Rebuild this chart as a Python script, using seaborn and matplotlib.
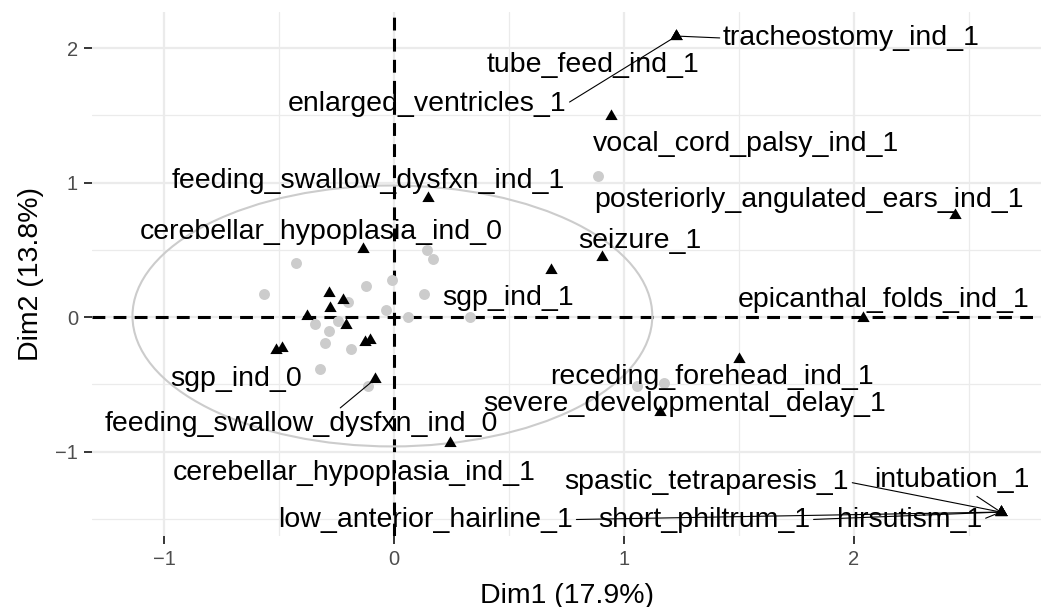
import pandas as pd
import seaborn as sns
import matplotlib.pyplot as plt
from matplotlib.patches import Ellipse
from matplotlib.markers import MarkerStyle
from matplotlib.path import Path

# individuals (grey dots)
ind_dim1 = [-0.424, -0.566, -0.123, -0.010, 0.142, 0.168, 0.132, -0.035, 0.062, 0.331,
            -0.199, -0.344, -0.245, -0.282, -0.300, -0.189, -0.322, -0.112, 0.888, 1.172, 1.057]
ind_dim2 = [0.402, 0.168, 0.232, 0.274, 0.496, 0.432, 0.170, 0.052, -0.002, -0.002,
            0.113, -0.052, -0.027, -0.101, -0.195, -0.239, -0.387, -0.516, 1.052, -0.491, -0.516]

# variable categories (black triangles), "" = label dropped by the repel
cat_names = [
    "tracheostomy_ind_1", "tube_feed_ind_1", "enlarged_ventricles_1",
    "vocal_cord_palsy_ind_1", "feeding_swallow_dysfxn_ind_1",
    "posteriorly_angulated_ears_ind_1", "cerebellar_hypoplasia_ind_0",
    "seizure_1", "sgp_ind_1", "epicanthal_folds_ind_1", "sgp_ind_0",
    "receding_forehead_ind_1", "severe_developmental_delay_1",
    "feeding_swallow_dysfxn_ind_0", "cerebellar_hypoplasia_ind_1",
    "spastic_tetraparesis_1", "intubation_1", "low_anterior_hairline_1",
    "short_philtrum_1", "hirsutism_1",
    "", "", "", "", "", "", "", "",
]
cat_dim1 = [1.228, 1.228, 1.228, 0.945, 0.149, 2.437, -0.134, 0.903, 0.683, 2.040,
            -0.511, 1.502, 1.157, -0.083, 0.244, 2.638, 2.638, 2.638, 2.638, 2.638,
            -0.282, -0.223, -0.279, -0.377, -0.209, -0.126, -0.104, -0.485]
cat_dim2 = [2.089, 2.089, 2.089, 1.496, 0.887, 0.756, 0.509, 0.447, 0.348, -0.010,
            -0.244, -0.313, -0.705, -0.462, -0.933, -1.450, -1.450, -1.450, -1.450, -1.450,
            0.176, 0.126, 0.064, 0.007, -0.059, -0.183, -0.170, -0.232]

dim1_title = "Dim1 (17.9%)"
dim2_title = "Dim2 (13.8%)"

# concentration ellipse of the individuals
ellipse_center = (-0.007, 0.008)
ellipse_radii = (1.13, 0.97)

# label placement (pixel offsets from the point, segment anchor on label box)
LABEL_LAYOUT = {
    "tracheostomy_ind_1": (175, -1, (0, 0.5)),
    "tube_feed_ind_1": (-83.5, 26, None),
    "enlarged_ventricles_1": (-249.5, 65, (1, 0.5)),
    "vocal_cord_palsy_ind_1": (134.5, 25, None),
    "feeding_swallow_dysfxn_ind_1": (-60, -20, None),
    "posteriorly_angulated_ears_ind_1": (-145.5, -18.5, None),
    "cerebellar_hypoplasia_ind_0": (-42, -20, None),
    "seizure_1": (38, -19, None),
    "sgp_ind_1": (-43, 25, None),
    "epicanthal_folds_ind_1": (20, -21, None),
    "sgp_ind_0": (-40, 26, None),
    "receding_forehead_ind_1": (-27.5, 15, None),
    "severe_developmental_delay_1": (24.5, -11, None),
    "feeding_swallow_dysfxn_ind_0": (-74, 42, (0.59, 1)),
    "cerebellar_hypoplasia_ind_1": (-96, 27, None),
    "spastic_tetraparesis_1": (-294, -33, (1, 0.5)),
    "intubation_1": (-49, -35, (0.63, 0)),
    "low_anterior_hairline_1": (-575, 4.5, (1, 0.5)),
    "short_philtrum_1": (-296.5, 4.5, (1, 0.5)),
    "hirsutism_1": (-91, 4.5, (1, 0.5)),
}


def main():
    ind = pd.DataFrame({"Dim1": ind_dim1, "Dim2": ind_dim2})
    cat = pd.DataFrame({"name": cat_names, "Dim1": cat_dim1, "Dim2": cat_dim2})

    sns.set_theme(style="whitegrid")
    plt.rcParams["font.family"] = ["Liberation Sans", "DejaVu Sans"]

    fig = plt.figure(figsize=(10.43, 6.07), dpi=100)
    ax = fig.add_axes([92 / 1043, 1 - 536 / 607, 949 / 1043, 524 / 607])
    ax.set_facecolor("white")

    ax.axhline(0, color="black", lw=2.2, dashes=(4.2, 2.7), zorder=1)
    ax.axvline(0, color="black", lw=2.2, dashes=(4.2, 2.7), zorder=1)

    sns.scatterplot(data=ind, x="Dim1", y="Dim2", color="#CCCCCC", s=62,
                    linewidth=0, ax=ax, zorder=2)

    ax.add_patch(Ellipse(ellipse_center, 2 * ellipse_radii[0], 2 * ellipse_radii[1],
                         fill=False, edgecolor="#CCCCCC", lw=1.5, zorder=2))

    tri = MarkerStyle(Path([(-1, -0.577), (1, -0.577), (0, 1.155), (-1, -0.577)], closed=True))
    sns.scatterplot(data=cat, x="Dim1", y="Dim2", color="black", marker=tri, s=105,
                    linewidth=0, ax=ax, zorder=3)

    for _, row in cat.iterrows():
        if row["name"] == "":
            continue
        dx, dy, anchor = LABEL_LAYOUT[row["name"]]
        arrow = None
        if anchor is not None:
            arrow = dict(arrowstyle="-", color="black", lw=0.8, relpos=anchor,
                         shrinkA=0, shrinkB=0)
        ax.annotate(row["name"], xy=(row["Dim1"], row["Dim2"]),
                    xytext=(dx * 0.72, -dy * 0.72), textcoords="offset points",
                    ha="center", va="center_baseline", fontsize=20.5,
                    color="black", arrowprops=arrow, zorder=4)

    ax.set_xlim(-1.313, 2.813)
    ax.set_ylim(-1.628, 2.268)
    ax.set_xticks([-1, 0, 1, 2])
    ax.set_yticks([-1, 0, 1, 2])
    ax.set_xticks([-0.5, 0.5, 1.5, 2.5], minor=True)
    ax.set_yticks([-1.5, -0.5, 0.5, 1.5], minor=True)
    ax.grid(True, which="major", color="#EBEBEB", lw=1.6)
    ax.grid(True, which="minor", color="#EBEBEB", lw=0.9)
    ax.set_axisbelow(True)
    for s in ax.spines.values():
        s.set_visible(False)

    ax.tick_params(which="major", length=5.5, width=1.1, color="black",
                   labelsize=14.5, labelcolor="#4D4D4D", pad=4.5)
    ax.tick_params(which="minor", length=0)
    ax.tick_params(axis="x", bottom=True)
    ax.tick_params(axis="y", left=True)

    ax.set_xlabel(dim1_title, fontsize=20.5, color="black", labelpad=10)
    ax.set_ylabel(dim2_title, fontsize=20.5, color="black", labelpad=8)

    fig.savefig("out.png", dpi=100)


if __name__ == "__main__":
    main()
